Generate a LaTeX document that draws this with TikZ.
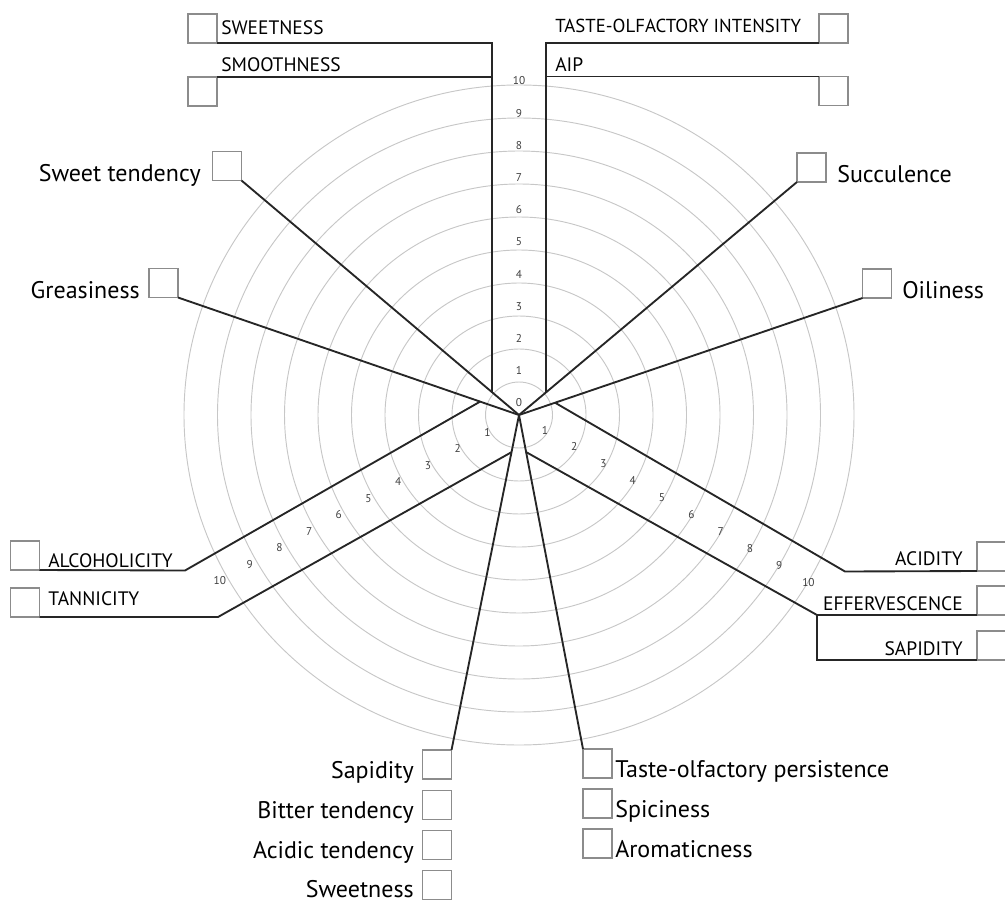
\documentclass[tikz,border=0pt]{standalone}
\usepackage{fontspec}
\setmainfont{PT Sans}
\usetikzlibrary{calc}
\begin{document}
\begin{tikzpicture}[x=0.75pt,y=-0.75pt,
  ring/.style={draw=black!22, line width=0.7pt},
  ln/.style={draw=black!85, line width=1.4pt, line join=miter},
  cb/.style={draw=black!45, line width=0.9pt, fill=white, minimum size=21.75pt, inner sep=0pt, outer sep=0pt},
  lab/.style={inner sep=0pt, font=\fontsize{18}{21}\selectfont, text=black},
  caps/.style={inner sep=0pt, font=\fontsize{14.6}{18}\selectfont, text=black},
  num/.style={inner sep=0pt, font=\fontsize{8.5}{9}\selectfont, text=black!75}]
\useasboundingbox (0,0) rectangle (1005,905);
\coordinate (C) at (519,415);
% rings
\foreach \k in {1,...,10} \draw[ring] (C) ellipse [x radius=33.5*\k, y radius=33*\k];
% boxes
\node[cb] (bSWE) at (202.5,28.5) {};
\node[cb] (bSMO) at (202.5,91.5) {};
\node[cb] (bTOI) at (833.5,28.5) {};
\node[cb] (bAIP) at (833.5,91) {};
\node[cb] (bST) at (227,166) {};
\node[cb] (bGR) at (163.5,283) {};
\node[cb] (bSU) at (811.5,167.5) {};
\node[cb] (bOI) at (877,283.5) {};
\node[cb] (bAL) at (25,555.5) {};
\node[cb] (bTA) at (25,602.5) {};
\node[cb] (bAC) at (991.5,556.5) {};
\node[cb] (bEF) at (991.5,600.5) {};
\node[cb] (bSA) at (991.5,645.5) {};
\node[cb] (bBS) at (437,764.5) {};
\node[cb] (bBT) at (437,805) {};
\node[cb] (bAT) at (437,845) {};
\node[cb] (bSW) at (437,885) {};
\node[cb] (bTP) at (597.5,763.5) {};
\node[cb] (bSP) at (597.5,803.5) {};
\node[cb] (bAR) at (597.5,843.5) {};
% radial lines
\draw[ln] (C) -- (bST.south east);
\draw[ln] (C) -- (bGR.south east);
\draw[ln] (C) -- (bSU.south west);
\draw[ln] (C) -- (bOI.south west);
\draw[ln] (C) -- (bBS.north east);
\draw[ln] (C) -- (bTP.north west);
% vertical band
\coordinate (lv0) at ($(C)!0.097!(bST.south east)$);
\coordinate (rv0) at ($(C)!0.097!(bSU.south west)$);
\draw[ln] (lv0) |- (bSWE.south east);
\draw[ln] (bSMO.north east) -- (bSMO.north east -| lv0);
\draw[ln] (rv0) |- (bTOI.south west);
\draw[ln] (bAIP.north west) -- (bAIP.north west -| rv0);
% left band
\coordinate (al0) at ($(C)!0.114!(bGR.south east)$);
\coordinate (al1) at (185,570.5);
\coordinate (ta0) at ($(C)!0.111!(bBS.north east)$);
\coordinate (ta1) at (218,617);
\draw[ln] (al0) -- (al1) -- (bAL.south east);
\draw[ln] (ta0) -- (ta1) -- (bTA.south east);
% right band
\coordinate (ac0) at ($(C)!0.105!(bOI.south west)$);
\coordinate (ac1) at (845,571.5);
\coordinate (ef0) at ($(C)!0.111!(bTP.north west)$);
\coordinate (ef1) at (817,615);
\draw[ln] (ac0) -- (ac1) -- (bAC.south west);
\draw[ln] (ef0) -- (ef1) -- (bEF.south west);
\draw[ln] (ef1) |- (bSA.south west);
% scale numbers
\foreach \k in {0,...,10} \node[num] at ($(C)+(0,{-12-32.2*\k})$) {\k};
\foreach \k in {1,...,10} \node[num] at ($(C)+({-cos(29)*(36+34*(\k-1))},{sin(29)*(36+34*(\k-1))})$) {\k};
\foreach \k in {1,...,10} \node[num] at ($(C)+({cos(30)*(30+33.8*(\k-1))},{sin(30)*(30+33.8*(\k-1))})$) {\k};
% labels
\node[caps, anchor=base west] (tSWE) at (221,35) {SWEETNESS};
\node[caps, anchor=base west] (tSMO) at (221,72) {SMOOTHNESS};
\node[caps, anchor=base west, font=\fontsize{14.1}{18}\selectfont] (tTOI) at (555,33) {TASTE-OLFACTORY INTENSITY};
\node[caps, anchor=base west] (tAIP) at (555,72) {AIP};
\node[lab, anchor=base east] (tST) at (201,182) {Sweet tendency};
\node[lab, anchor=base east] (tGR) at (140,299) {Greasiness};
\node[lab, anchor=base west] (tSU) at (837,183) {Succulence};
\node[lab, anchor=base west] (tOI) at (902,298) {Oiliness};
\node[caps, anchor=base west] (tAL) at (48,567) {ALCOHOLICITY};
\node[caps, anchor=base west] (tTA) at (48,605) {TANNICITY};
\node[caps, anchor=base east] (tAC) at (963,565) {ACIDITY};
\node[caps, anchor=base east] (tEF) at (963,610) {EFFERVESCENCE};
\node[caps, anchor=base east] (tSA) at (963,655) {SAPIDITY};
\node[lab, anchor=base east] (tBS) at (414,778) {Sapidity};
\node[lab, anchor=base east] (tBT) at (414,818) {Bitter tendency};
\node[lab, anchor=base east] (tAT) at (414,858) {Acidic tendency};
\node[lab, anchor=base east] (tSW) at (414,897) {Sweetness};
\node[lab, anchor=base west] (tTP) at (615,777) {Taste-olfactory persistence};
\node[lab, anchor=base west] (tSP) at (615,817) {Spiciness};
\node[lab, anchor=base west] (tAR) at (615,857) {Aromaticness};
\end{tikzpicture}
\end{document}
